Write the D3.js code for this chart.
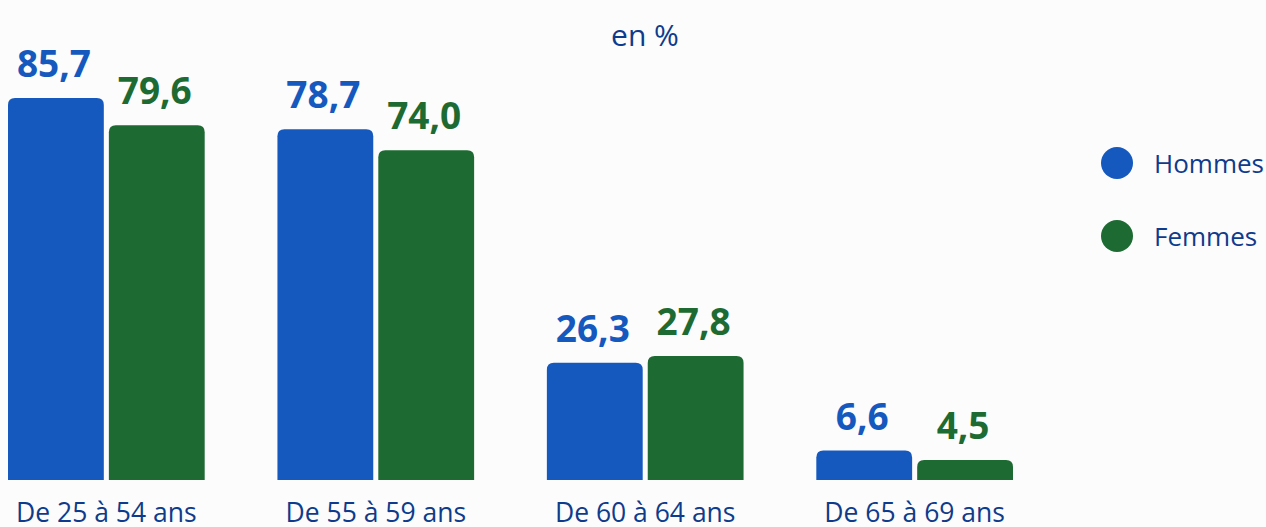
<!DOCTYPE html>
<html>
<head>
<meta charset="utf-8">
<script src="https://cdn.jsdelivr.net/npm/d3@7"></script>
<style>
  body { margin: 0; background: #fcfcfc; }
  svg { display: block; font-family: "Open Sans", "Noto Sans", sans-serif; }
</style>
</head>
<body>
<svg id="chart" width="1266" height="527"></svg>
<script>
  var categories = ['De 25 à 54 ans', 'De 55 à 59 ans', 'De 60 à 64 ans', 'De 65 à 69 ans'];
  var seriesNames = ['Hommes', 'Femmes'];
  var hommes = [85.7, 78.7, 26.3, 6.6];
  var femmes = [79.6, 74.0, 27.8, 4.5];
  var colors = ['#1559bf', '#1d6b32'];
  var textColor = '#0e3b8b';

  var svg = d3.select('#chart');
  var baseY = 480;

  var x0 = d3.scaleBand().domain(categories).range([8, 1013]).paddingInner(0.27).paddingOuter(0);
  var x1 = d3.scaleBand().domain(seriesNames).range([0, x0.bandwidth()]).paddingInner(0.05);
  var y = d3.scaleLinear().domain([0, 100]).range([baseY, baseY - 445.7]);

  var fmt = function(v) { return d3.format('.1f')(v).replace('.', ','); };

  // top-rounded bar path
  function barPath(x, yTop, w, h, r) {
    r = Math.min(r, h, w / 2);
    return 'M' + x + ',' + (yTop + h) +
      'V' + (yTop + r) +
      'Q' + x + ',' + yTop + ' ' + (x + r) + ',' + yTop +
      'H' + (x + w - r) +
      'Q' + (x + w) + ',' + yTop + ' ' + (x + w) + ',' + (yTop + r) +
      'V' + (yTop + h) + 'Z';
  }

  var data = categories.map(function(c, i) {
    return { cat: c, values: [hommes[i], femmes[i]] };
  });

  var groups = svg.append('g').selectAll('g')
    .data(data).join('g')
    .attr('transform', function(d) { return 'translate(' + x0(d.cat) + ',0)'; });

  var items = groups.selectAll('g')
    .data(function(d) { return d.values.map(function(v, i) { return { s: seriesNames[i], v: v, i: i }; }); })
    .join('g');

  items.append('path')
    .attr('fill', function(d) { return colors[d.i]; })
    .attr('d', function(d) {
      return barPath(x1(d.s), y(d.v), x1.bandwidth(), baseY - y(d.v), 7);
    });

  items.append('text')
    .attr('x', function(d) { return x1(d.s) + x1.bandwidth() / 2 - 2; })
    .attr('y', function(d) { return y(d.v) - 21; })
    .attr('text-anchor', 'middle')
    .attr('font-weight', 700)
    .attr('font-size', 37)
    .attr('fill', function(d) { return colors[d.i]; })
    .text(function(d) { return fmt(d.v); });

  // category labels
  svg.append('g').selectAll('text')
    .data(categories).join('text')
    .attr('x', function(d) { return x0(d) + x0.bandwidth() / 2; })
    .attr('y', 522)
    .attr('text-anchor', 'middle')
    .attr('font-size', 26.5)
    .attr('fill', textColor)
    .text(function(d) { return d; });

  // title
  svg.append('text')
    .attr('x', 645).attr('y', 46)
    .attr('text-anchor', 'middle')
    .attr('font-size', 30)
    .attr('fill', textColor)
    .text('en %');

  // legend
  var legend = svg.append('g').selectAll('g')
    .data(seriesNames).join('g')
    .attr('transform', function(d, i) { return 'translate(1117,' + (163 + i * 73) + ')'; });
  legend.append('circle').attr('r', 16).attr('fill', function(d, i) { return colors[i]; });
  legend.append('text')
    .attr('x', 37).attr('y', 10)
    .attr('font-size', 26)
    .attr('fill', textColor)
    .text(function(d) { return d; });
</script>
</body>
</html>
